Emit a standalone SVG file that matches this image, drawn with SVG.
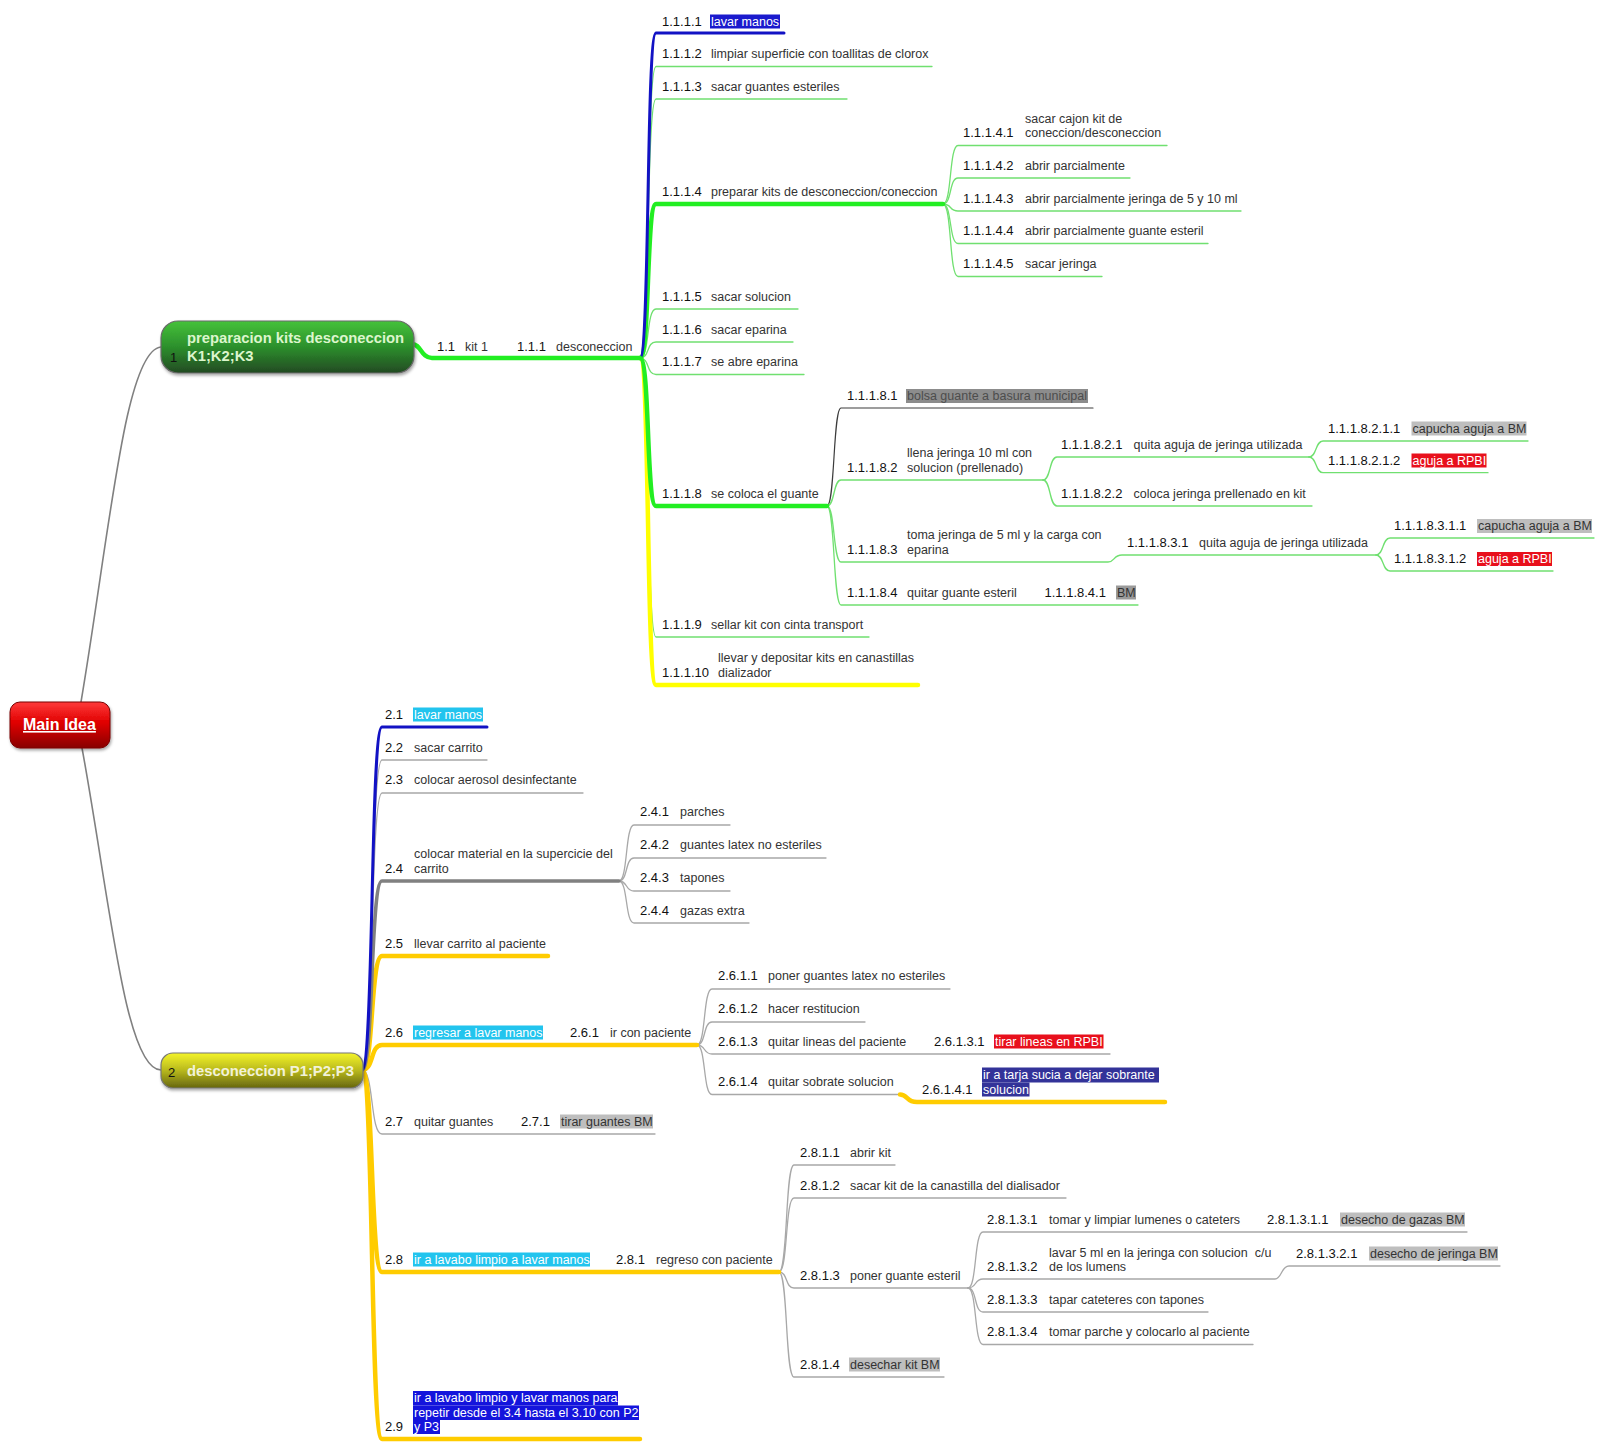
<svg xmlns="http://www.w3.org/2000/svg" width="1604" height="1449" viewBox="0 0 1604 1449">
<defs>
<linearGradient id="gMain" x1="0" y1="0" x2="0" y2="1"><stop offset="0" stop-color="#ff3a3a"/><stop offset="0.45" stop-color="#e00000"/><stop offset="1" stop-color="#880000"/></linearGradient>
<linearGradient id="gN1" x1="0" y1="0" x2="0" y2="1"><stop offset="0" stop-color="#45c23a"/><stop offset="0.5" stop-color="#2c8f2c"/><stop offset="1" stop-color="#234a23"/></linearGradient>
<linearGradient id="gN2" x1="0" y1="0" x2="0" y2="1"><stop offset="0" stop-color="#f4f42a"/><stop offset="0.5" stop-color="#b8b81c"/><stop offset="1" stop-color="#66660f"/></linearGradient>
<filter id="sh" x="-10%" y="-20%" width="120%" height="150%"><feDropShadow dx="1" dy="2" stdDeviation="1.5" flood-color="#000" flood-opacity="0.35"/></filter>
</defs>
<style>
text{font-family:"Liberation Sans",Arial,sans-serif}
.lb{font-size:13px;fill:#111}
.tx{font-size:12.5px;fill:#333}
.w{fill:#fff}
.nt{font-size:14.8px;font-weight:bold}
.c{fill:none;stroke-linecap:round;stroke-linejoin:round}
.tg{stroke:#70e070;stroke-width:1.3}
.TG{stroke:#22ee22;stroke-width:4.5}
.TB{stroke:#1212c4;stroke-width:3}
.TY{stroke:#ffff00;stroke-width:4.5}
.TO{stroke:#ffcc00;stroke-width:4.5}
.gr{stroke:#a8a8a8;stroke-width:1.3}
.GR{stroke:#808080;stroke-width:3.5}
.dk{stroke:#3c3c3c;stroke-width:1.2}
.mc{stroke:#808080;stroke-width:1.6}
.hb{fill:#1a1acd}
.hc{fill:#22c4ee}
.hg{fill:#bebebe}
.hr{fill:#e8101c}
.hn{fill:#333399}
.hB{fill:#1414dc}
</style>

<g id="connectors">
<path class="c mc" d="M81 702 C110 530 125 350 161 347"/>
<path class="c mc" d="M82 748 C110 900 125 1070 161 1070"/>

<path class="c tg" d="M640 358 C650 358 646 66.5 656 66.5 L932 66.5"/>
<path class="c tg" d="M640 358 C650 358 646 99 656 99 L847 99"/>
<path class="c tg" d="M640 358 C650 358 646 309 656 309 L798 309"/>
<path class="c tg" d="M640 358 C650 358 646 342 656 342 L793 342"/>
<path class="c tg" d="M640 358 C650 358 646 374.5 656 374.5 L804 374.5"/>
<path class="c tg" d="M640 358 C650 358 646 637 656 637 L869 637"/>
<path class="c tg" d="M943 204 C952 204 949 145.5 958 145.5 L1167 145.5"/>
<path class="c tg" d="M943 204 C952 204 949 178 958 178 L1130 178"/>
<path class="c tg" d="M943 204 C952 204 949 211 958 211 L1241 211"/>
<path class="c tg" d="M943 204 C952 204 949 243.5 958 243.5 L1208 243.5"/>
<path class="c tg" d="M943 204 C952 204 949 276.5 958 276.5 L1102 276.5"/>
<path class="c dk" d="M827 506 C835 506 833 408 841 408 L1093 408"/>
<path class="c tg" d="M827 506 C835 506 833 480 841 480 L1043 480"/>
<path class="c tg" d="M827 506 C835 506 833 562 841 562 L1108 562 C1115 562 1113 555 1122 555 L1376 555"/>
<path class="c tg" d="M827 506 C835 506 833 605 841 605 L1138 605"/>
<path class="c tg" d="M1043 480 C1051 480 1049 457 1057 457 L1309 457"/>
<path class="c tg" d="M1043 480 C1051 480 1049 506 1057 506 L1312 506"/>
<path class="c tg" d="M1309 457 C1317 457 1315 441 1323 441 L1528 441"/>
<path class="c tg" d="M1309 457 C1317 457 1315 472.7 1323 472.7 L1488 472.7"/>
<path class="c tg" d="M1376 555 C1384 555 1382 538 1390 538 L1594 538"/>
<path class="c tg" d="M1376 555 C1384 555 1382 571 1390 571 L1553 571"/>
<path class="c TY" d="M640 358 C650 358 646 685 656 685 L918 685"/>
<path class="c TG" d="M640 358 C650 358 646 506 656 506 L827 506"/>
<path class="c TG" d="M640 358 C650 358 646 204 656 204 L943 204"/>
<path class="c TB" d="M640 358 C650 358 646 33 656 33 L784 33"/>
<path class="c TG" d="M412 344 C421 344 421 358 432 358 L640 358"/>

<path class="c gr" d="M362 1070 C374 1070 370 760 382 760 L487 760"/>
<path class="c gr" d="M362 1070 C374 1070 370 793 382 793 L583 793"/>
<path class="c gr" d="M362 1070 C374 1070 370 1134 382 1134 L655 1134"/>
<path class="c gr" d="M619 881 C628 881 625 825 634 825 L730 825"/>
<path class="c gr" d="M619 881 C628 881 625 858 634 858 L826 858"/>
<path class="c gr" d="M619 881 C628 881 625 891 634 891 L730 891"/>
<path class="c gr" d="M619 881 C628 881 625 923 634 923 L749 923"/>
<path class="c gr" d="M697 1045 C706 1045 703 989 712 989 L950 989"/>
<path class="c gr" d="M697 1045 C706 1045 703 1022 712 1022 L865 1022"/>
<path class="c gr" d="M697 1045 C706 1045 703 1054 712 1054 L1110 1054"/>
<path class="c gr" d="M697 1045 C706 1045 703 1094.5 712 1094.5 L900 1094.5"/>
<path class="c gr" d="M779 1272 C788 1272 785 1165 794 1165 L895 1165"/>
<path class="c gr" d="M779 1272 C788 1272 785 1198 794 1198 L1066 1198"/>
<path class="c gr" d="M779 1272 C788 1272 785 1288 794 1288 L968 1288"/>
<path class="c gr" d="M779 1272 C788 1272 785 1377 794 1377 L944 1377"/>
<path class="c gr" d="M968 1288 C977 1288 974 1232 983 1232 L1467 1232"/>
<path class="c gr" d="M968 1288 C977 1288 974 1279 983 1279 L1275 1279 C1282 1279 1281 1266 1289 1266 L1500 1266"/>
<path class="c gr" d="M968 1288 C977 1288 974 1312 983 1312 L1208 1312"/>
<path class="c gr" d="M968 1288 C977 1288 974 1344.5 983 1344.5 L1253 1344.5"/>
<path class="c TO" d="M362 1070 C374 1070 370 1439 382 1439 L640 1439"/>
<path class="c TO" d="M362 1070 C374 1070 370 1272 382 1272 L779 1272"/>
<path class="c TO" d="M362 1070 C374 1070 370 1045 382 1045 L697 1045"/>
<path class="c TO" d="M362 1070 C374 1070 370 956 382 956 L548 956"/>
<path class="c GR" d="M362 1070 C374 1070 370 881 382 881 L619 881"/>
<path class="c TB" d="M362 1070 C374 1070 370 727 382 727 L487 727"/>
<path class="c TO" d="M900 1094.5 C908 1094.5 906 1102 917 1102 L1165 1102"/>
</g>

<g id="main-idea">
<rect x="10" y="702" width="100" height="46" rx="10" fill="url(#gMain)" stroke="#7a0000" stroke-width="1" filter="url(#sh)"/>
<text x="23" y="730" class="w" style="font-size:16px;font-weight:bold;text-decoration:underline">Main Idea</text>
</g>

<g id="n1">
<rect x="161" y="321" width="253" height="52" rx="17" fill="url(#gN1)" stroke="#6a6a6a" stroke-width="1.2" filter="url(#sh)"/>
<text x="170" y="362" class="lb">1</text>
<text class="nt" style="fill:#dcf6cc"><tspan x="187" y="343">preparacion kits desconeccion</tspan><tspan x="187" y="361">K1;K2;K3</tspan></text>
</g>

<g id="n2">
<rect x="161" y="1053" width="202" height="35" rx="12" fill="url(#gN2)" stroke="#777" stroke-width="1.2" filter="url(#sh)"/>
<text x="168" y="1077" class="lb">2</text>
<text x="187" y="1076" class="nt" style="fill:#f2f2d8">desconeccion P1;P2;P3</text>
</g>

<g id="n1-1">
<text x="437" y="351" class="lb">1.1</text><text x="465" y="351" class="tx">kit 1</text>
</g>
<g id="n1-1-1">
<text x="517" y="351" class="lb">1.1.1</text><text x="556" y="351" class="tx">desconeccion</text>
</g>

<g id="n1-1-1-1"><text x="662" y="25.5" class="lb">1.1.1.1</text><rect x="710" y="14.5" width="70" height="14" class="hb"/><text x="711" y="25.5" class="tx w">lavar manos</text></g>
<g id="n1-1-1-2"><text x="662" y="58" class="lb">1.1.1.2</text><text x="711" y="58" class="tx">limpiar superficie con toallitas de clorox</text></g>
<g id="n1-1-1-3"><text x="662" y="90.5" class="lb">1.1.1.3</text><text x="711" y="90.5" class="tx">sacar guantes esteriles</text></g>
<g id="n1-1-1-4"><text x="662" y="196" class="lb">1.1.1.4</text><text x="711" y="196" class="tx">preparar kits de desconeccion/coneccion</text></g>
<g id="n1-1-1-4-1"><text x="963" y="137" class="lb">1.1.1.4.1</text><text class="tx"><tspan x="1025" y="122.5">sacar cajon kit de</tspan><tspan x="1025" y="137">coneccion/desconeccion</tspan></text></g>
<g id="n1-1-1-4-2"><text x="963" y="170" class="lb">1.1.1.4.2</text><text x="1025" y="170" class="tx">abrir parcialmente</text></g>
<g id="n1-1-1-4-3"><text x="963" y="202.5" class="lb">1.1.1.4.3</text><text x="1025" y="202.5" class="tx">abrir parcialmente jeringa de 5 y 10 ml</text></g>
<g id="n1-1-1-4-4"><text x="963" y="235" class="lb">1.1.1.4.4</text><text x="1025" y="235" class="tx">abrir parcialmente guante esteril</text></g>
<g id="n1-1-1-4-5"><text x="963" y="268" class="lb">1.1.1.4.5</text><text x="1025" y="268" class="tx">sacar jeringa</text></g>
<g id="n1-1-1-5"><text x="662" y="300.5" class="lb">1.1.1.5</text><text x="711" y="300.5" class="tx">sacar solucion</text></g>
<g id="n1-1-1-6"><text x="662" y="333.5" class="lb">1.1.1.6</text><text x="711" y="333.5" class="tx">sacar eparina</text></g>
<g id="n1-1-1-7"><text x="662" y="366" class="lb">1.1.1.7</text><text x="711" y="366" class="tx">se abre eparina</text></g>
<g id="n1-1-1-8"><text x="662" y="497.5" class="lb">1.1.1.8</text><text x="711" y="497.5" class="tx">se coloca el guante</text></g>
<g id="n1-1-1-8-1"><text x="847" y="400" class="lb">1.1.1.8.1</text><rect x="906" y="389" width="182" height="14" fill="#8c8c8c"/><text x="907" y="400" class="tx" style="fill:#4d4d4d">bolsa guante a basura municipal</text></g>
<g id="n1-1-1-8-2"><text x="847" y="472" class="lb">1.1.1.8.2</text><text class="tx"><tspan x="907" y="457">llena jeringa 10 ml con</tspan><tspan x="907" y="472">solucion (prellenado)</tspan></text></g>
<g id="n1-1-1-8-2-1"><text x="1061" y="448.5" class="lb">1.1.1.8.2.1</text><text x="1133.5" y="448.5" class="tx">quita aguja de jeringa utilizada</text></g>
<g id="n1-1-1-8-2-1-1"><text x="1328" y="432.5" class="lb">1.1.1.8.2.1.1</text><rect x="1411.5" y="421.5" width="115" height="14" class="hg"/><text x="1412.5" y="432.5" class="tx">capucha aguja a BM</text></g>
<g id="n1-1-1-8-2-1-2"><text x="1328" y="464.5" class="lb">1.1.1.8.2.1.2</text><rect x="1411.5" y="453.5" width="75" height="14" class="hr"/><text x="1412.5" y="464.5" class="tx w">aguja a RPBI</text></g>
<g id="n1-1-1-8-2-2"><text x="1061" y="497.5" class="lb">1.1.1.8.2.2</text><text x="1133.5" y="497.5" class="tx">coloca jeringa prellenado en kit</text></g>
<g id="n1-1-1-8-3"><text x="847" y="553.5" class="lb">1.1.1.8.3</text><text class="tx"><tspan x="907" y="538.5">toma jeringa de 5 ml y la carga con</tspan><tspan x="907" y="553.5">eparina</tspan></text></g>
<g id="n1-1-1-8-3-1"><text x="1127" y="546.5" class="lb">1.1.1.8.3.1</text><text x="1199" y="546.5" class="tx">quita aguja de jeringa utilizada</text></g>
<g id="n1-1-1-8-3-1-1"><text x="1394" y="530" class="lb">1.1.1.8.3.1.1</text><rect x="1477" y="519" width="115" height="14" class="hg"/><text x="1478" y="530" class="tx">capucha aguja a BM</text></g>
<g id="n1-1-1-8-3-1-2"><text x="1394" y="563" class="lb">1.1.1.8.3.1.2</text><rect x="1477" y="552" width="75" height="14" class="hr"/><text x="1478" y="563" class="tx w">aguja a RPBI</text></g>
<g id="n1-1-1-8-4"><text x="847" y="596.5" class="lb">1.1.1.8.4</text><text x="907" y="596.5" class="tx">quitar guante esteril</text></g>
<g id="n1-1-1-8-4-1"><text x="1044.5" y="596.5" class="lb">1.1.1.8.4.1</text><rect x="1116" y="585.5" width="20" height="14" fill="#9a9a9a"/><text x="1117" y="596.5" class="tx">BM</text></g>
<g id="n1-1-1-9"><text x="662" y="628.5" class="lb">1.1.1.9</text><text x="711" y="628.5" class="tx">sellar kit con cinta transport</text></g>
<g id="n1-1-1-10"><text x="662" y="676.5" class="lb">1.1.1.10</text><text class="tx"><tspan x="718" y="661.5">llevar y depositar kits en canastillas</tspan><tspan x="718" y="676.5">dializador</tspan></text></g>

<g id="n2-1"><text x="385" y="718.5" class="lb">2.1</text><rect x="413" y="707.5" width="70" height="14" class="hc"/><text x="414" y="718.5" class="tx w">lavar manos</text></g>
<g id="n2-2"><text x="385" y="751.5" class="lb">2.2</text><text x="414" y="751.5" class="tx">sacar carrito</text></g>
<g id="n2-3"><text x="385" y="784" class="lb">2.3</text><text x="414" y="784" class="tx">colocar aerosol desinfectante</text></g>
<g id="n2-4"><text x="385" y="872.5" class="lb">2.4</text><text class="tx"><tspan x="414" y="858">colocar material en la supercicie del</tspan><tspan x="414" y="872.5">carrito</tspan></text></g>
<g id="n2-4-1"><text x="640" y="816" class="lb">2.4.1</text><text x="680" y="816" class="tx">parches</text></g>
<g id="n2-4-2"><text x="640" y="849" class="lb">2.4.2</text><text x="680" y="849" class="tx">guantes latex no esteriles</text></g>
<g id="n2-4-3"><text x="640" y="882" class="lb">2.4.3</text><text x="680" y="882" class="tx">tapones</text></g>
<g id="n2-4-4"><text x="640" y="914.5" class="lb">2.4.4</text><text x="680" y="914.5" class="tx">gazas extra</text></g>
<g id="n2-5"><text x="385" y="947.5" class="lb">2.5</text><text x="414" y="947.5" class="tx">llevar carrito al paciente</text></g>
<g id="n2-6"><text x="385" y="1036.5" class="lb">2.6</text><rect x="413" y="1025.5" width="130" height="14" class="hc"/><text x="414" y="1036.5" class="tx w">regresar a lavar manos</text></g>
<g id="n2-6-1"><text x="570" y="1036.5" class="lb">2.6.1</text><text x="610" y="1036.5" class="tx">ir con paciente</text></g>
<g id="n2-6-1-1"><text x="718" y="980" class="lb">2.6.1.1</text><text x="768" y="980" class="tx">poner guantes latex no esteriles</text></g>
<g id="n2-6-1-2"><text x="718" y="1013" class="lb">2.6.1.2</text><text x="768" y="1013" class="tx">hacer restitucion</text></g>
<g id="n2-6-1-3"><text x="718" y="1045.5" class="lb">2.6.1.3</text><text x="768" y="1045.5" class="tx">quitar lineas del paciente</text></g>
<g id="n2-6-1-3-1"><text x="934" y="1045.5" class="lb">2.6.1.3.1</text><rect x="994" y="1034.5" width="109.5" height="14" class="hr"/><text x="995" y="1045.5" class="tx w">tirar lineas en RPBI</text></g>
<g id="n2-6-1-4"><text x="718" y="1086" class="lb">2.6.1.4</text><text x="768" y="1086" class="tx">quitar sobrate solucion</text></g>
<g id="n2-6-1-4-1"><text x="922" y="1093.5" class="lb">2.6.1.4.1</text><rect x="982" y="1067.5" width="177" height="15" class="hn"/><rect x="982" y="1082.5" width="47.5" height="14" class="hn"/><text class="tx w"><tspan x="983" y="1078.5">ir a tarja sucia a dejar sobrante</tspan><tspan x="983" y="1093.5">solucion</tspan></text></g>
<g id="n2-7"><text x="385" y="1125.5" class="lb">2.7</text><text x="414" y="1125.5" class="tx">quitar guantes</text></g>
<g id="n2-7-1"><text x="521" y="1125.5" class="lb">2.7.1</text><rect x="560" y="1114.5" width="93" height="14" class="hg"/><text x="561" y="1125.5" class="tx">tirar guantes BM</text></g>
<g id="n2-8"><text x="385" y="1263.5" class="lb">2.8</text><rect x="413" y="1252.5" width="177" height="14" class="hc"/><text x="414" y="1263.5" class="tx w">ir a lavabo limpio a lavar manos</text></g>
<g id="n2-8-1"><text x="616" y="1263.5" class="lb">2.8.1</text><text x="656" y="1263.5" class="tx">regreso con paciente</text></g>
<g id="n2-8-1-1"><text x="800" y="1157" class="lb">2.8.1.1</text><text x="850" y="1157" class="tx">abrir kit</text></g>
<g id="n2-8-1-2"><text x="800" y="1189.5" class="lb">2.8.1.2</text><text x="850" y="1189.5" class="tx">sacar kit de la canastilla del dialisador</text></g>
<g id="n2-8-1-3"><text x="800" y="1280" class="lb">2.8.1.3</text><text x="850" y="1280" class="tx">poner guante esteril</text></g>
<g id="n2-8-1-3-1"><text x="987" y="1223.5" class="lb">2.8.1.3.1</text><text x="1049" y="1223.5" class="tx">tomar y limpiar lumenes o cateters</text></g>
<g id="n2-8-1-3-1-1"><text x="1267" y="1223.5" class="lb">2.8.1.3.1.1</text><rect x="1340" y="1212.5" width="125" height="14" class="hg"/><text x="1341" y="1223.5" class="tx">desecho de gazas BM</text></g>
<g id="n2-8-1-3-2"><text x="987" y="1271" class="lb">2.8.1.3.2</text><text class="tx"><tspan x="1049" y="1256.5">lavar 5 ml en la jeringa con solucion&#160; c/u</tspan><tspan x="1049" y="1271">de los lumens</tspan></text></g>
<g id="n2-8-1-3-2-1"><text x="1296" y="1257.5" class="lb">2.8.1.3.2.1</text><rect x="1369" y="1246.5" width="129" height="14" class="hg"/><text x="1370" y="1257.5" class="tx">desecho de jeringa BM</text></g>
<g id="n2-8-1-3-3"><text x="987" y="1303.5" class="lb">2.8.1.3.3</text><text x="1049" y="1303.5" class="tx">tapar cateteres con tapones</text></g>
<g id="n2-8-1-3-4"><text x="987" y="1336" class="lb">2.8.1.3.4</text><text x="1049" y="1336" class="tx">tomar parche y colocarlo al paciente</text></g>
<g id="n2-8-1-4"><text x="800" y="1368.5" class="lb">2.8.1.4</text><rect x="849" y="1357.5" width="91" height="14" class="hg"/><text x="850" y="1368.5" class="tx">desechar kit BM</text></g>
<g id="n2-9"><text x="385" y="1431" class="lb">2.9</text><rect x="413" y="1391" width="205" height="14.5" class="hB"/><rect x="413" y="1405.5" width="226" height="14.5" class="hB"/><rect x="413" y="1420" width="27" height="14" class="hB"/><text class="tx w"><tspan x="414" y="1402">ir a lavabo limpio y lavar manos para</tspan><tspan x="414" y="1416.5">repetir desde el 3.4 hasta el 3.10 con P2</tspan><tspan x="414" y="1431">y P3</tspan></text></g>
</svg>
